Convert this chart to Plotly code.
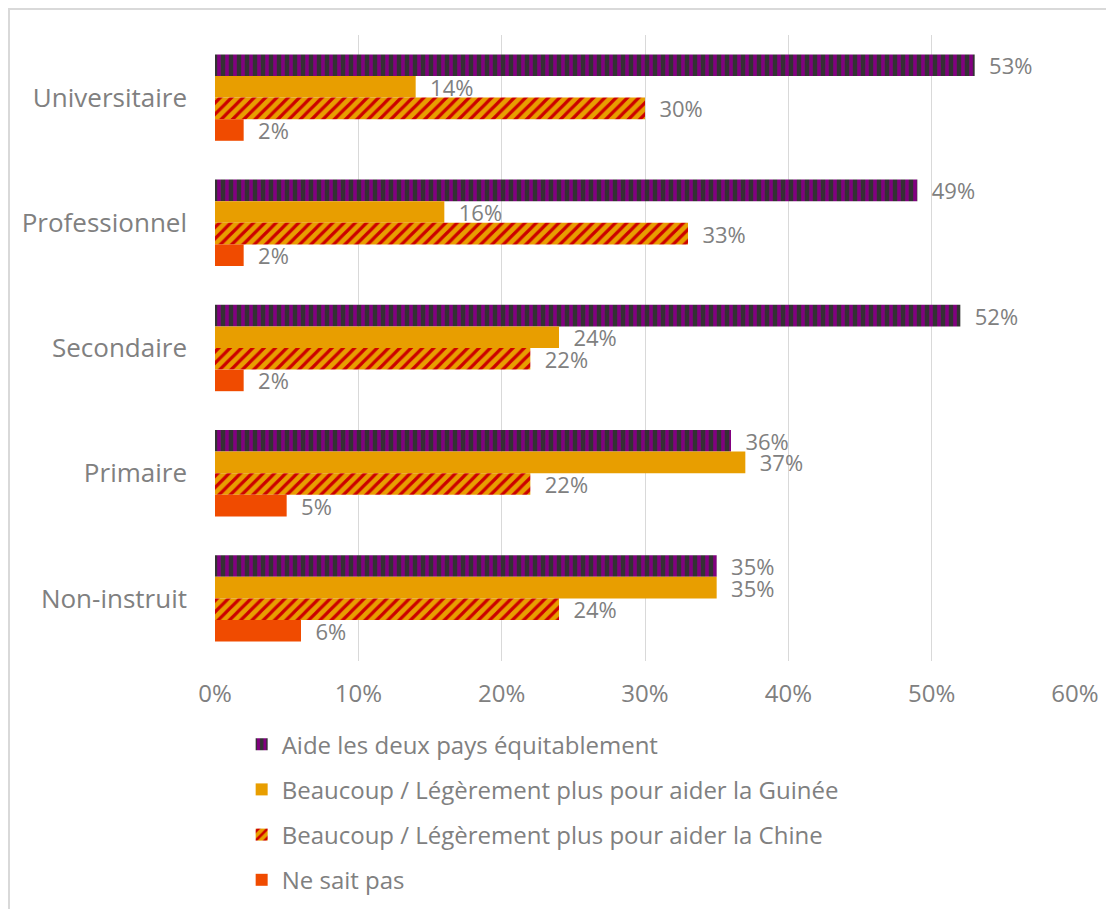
import plotly.graph_objects as go

categories = ["Universitaire", "Professionnel", "Secondaire", "Primaire", "Non-instruit"]
series_names = [
    "Aide les deux pays équitablement",
    "Beaucoup / Légèrement plus pour aider la Guinée",
    "Beaucoup / Légèrement plus pour aider la Chine",
    "Ne sait pas",
]
aide = [53, 49, 52, 36, 35]
guinee = [14, 16, 24, 37, 35]
chine = [30, 33, 22, 22, 24]
nsp = [2, 2, 2, 5, 6]
tick_vals = [0, 10, 20, 30, 40, 50, 60]
tick_text = ["0%", "10%", "20%", "30%", "40%", "50%", "60%"]

FONT = "Open Sans"
GRAY = "#808080"

styles = [
    dict(color="#333333", pattern=dict(shape="|", fgcolor="#820080", bgcolor="#333333", size=8, solidity=0.45, fillmode="replace")),
    dict(color="#E89E00"),
    dict(color="#E89E00", pattern=dict(shape="/", fgcolor="#CC0000", bgcolor="#E89E00", size=8, solidity=0.4, fillmode="replace")),
    dict(color="#F04B00"),
]

fig = go.Figure()
for i, (name, vals) in enumerate(zip(series_names, [aide, guinee, chine, nsp])):
    fig.add_trace(go.Bar(
        y=categories, x=vals, name=name, orientation="h",
        marker=dict(line=dict(width=0), **styles[i]),
        text=["\u00a0\u00a0" + f"{v}%" for v in vals],
        textposition="outside", cliponaxis=False, constraintext="none",
        textfont=dict(family=FONT, size=22, color=GRAY),
        legendgroup=str(i),
    ))

W, H = 1106, 901
L, R, T, B = 207, 39, 27, 248
PW, PH = W - L - R, H - T - B

fig.update_layout(
    width=W, height=H,
    margin=dict(l=L, r=R, t=T, b=B, autoexpand=False),
    paper_bgcolor="white", plot_bgcolor="white",
    barmode="group", bargap=0.31, bargroupgap=0,
    font=dict(family=FONT, color=GRAY),
    xaxis=dict(range=[0, 60], tickvals=tick_vals, ticktext=tick_text,
               showgrid=True, gridcolor="#D9D9D9", gridwidth=1,
               zeroline=False, showline=False, ticks="",
               tickfont=dict(family=FONT, size=24, color=GRAY), ticklabelstandoff=16),
    yaxis=dict(autorange="reversed", showgrid=False, showline=False, ticks="",
               tickfont=dict(family=FONT, size=26, color=GRAY), ticklabelstandoff=27),
    legend=dict(x=0.031, y=-0.0976, xanchor="left", yanchor="top", orientation="v",
                traceorder="grouped", tracegroupgap=11,
                font=dict(family=FONT, size=24, color=GRAY)),
    showlegend=True,
)

fig.add_shape(type="rect", xref="paper", yref="paper",
              x0=(1 - L) / PW, x1=(W + 20 - L) / PW,
              y0=-(H + 20 - (H - B)) / PH, y1=1 + (T - 1) / PH,
              line=dict(color="#D9D9D9", width=2), fillcolor="rgba(0,0,0,0)", layer="below")

fig.write_html("out.html")
